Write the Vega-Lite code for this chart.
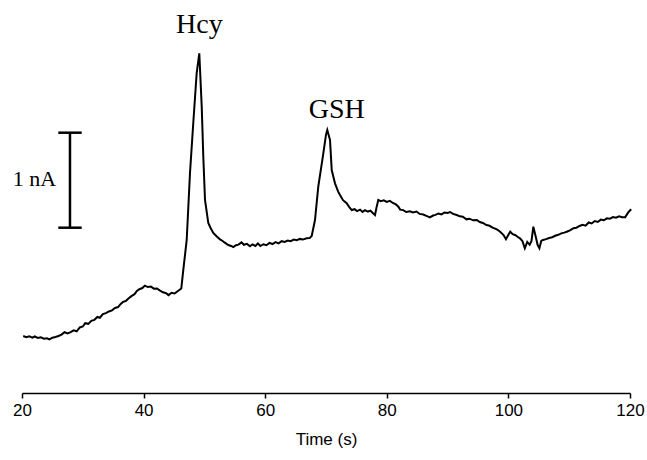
{
  "$schema": "https://vega.github.io/schema/vega-lite/v6.json",
  "width": 608,
  "height": 380,
  "autosize": {"type": "none"},
  "padding": {"left": 22, "top": 13, "right": 17, "bottom": 67},
  "background": "white",
  "config": {"view": {"stroke": null}},
  "datasets": {
    "trace": [
      {"t": 20.2, "i": 0.600}, {"t": 20.7, "i": 0.588}, {"t": 21.2, "i": 0.596}, {"t": 21.7, "i": 0.583},
      {"t": 22.1, "i": 0.595}, {"t": 22.6, "i": 0.580}, {"t": 23.1, "i": 0.586}, {"t": 23.6, "i": 0.572},
      {"t": 24.1, "i": 0.575}, {"t": 24.5, "i": 0.565}, {"t": 25.0, "i": 0.582}, {"t": 25.5, "i": 0.590},
      {"t": 26.0, "i": 0.600}, {"t": 26.5, "i": 0.615}, {"t": 27.0, "i": 0.640}, {"t": 27.5, "i": 0.628},
      {"t": 28.0, "i": 0.640}, {"t": 28.5, "i": 0.660}, {"t": 29.0, "i": 0.650}, {"t": 29.5, "i": 0.690},
      {"t": 30.0, "i": 0.700}, {"t": 30.4, "i": 0.735}, {"t": 30.9, "i": 0.728}, {"t": 31.4, "i": 0.760},
      {"t": 31.9, "i": 0.770}, {"t": 32.4, "i": 0.800}, {"t": 32.8, "i": 0.792}, {"t": 33.3, "i": 0.830},
      {"t": 33.8, "i": 0.840}, {"t": 34.3, "i": 0.858}, {"t": 34.8, "i": 0.870}, {"t": 35.3, "i": 0.895},
      {"t": 35.8, "i": 0.905}, {"t": 36.2, "i": 0.935}, {"t": 36.6, "i": 0.958}, {"t": 37.1, "i": 0.970},
      {"t": 37.6, "i": 1.000}, {"t": 38.0, "i": 1.020}, {"t": 38.5, "i": 1.040}, {"t": 38.9, "i": 1.075},
      {"t": 39.3, "i": 1.092}, {"t": 39.8, "i": 1.105}, {"t": 40.2, "i": 1.130}, {"t": 40.7, "i": 1.115},
      {"t": 41.2, "i": 1.120}, {"t": 41.7, "i": 1.098}, {"t": 42.2, "i": 1.100}, {"t": 42.7, "i": 1.077},
      {"t": 43.2, "i": 1.060}, {"t": 43.7, "i": 1.050}, {"t": 44.1, "i": 1.030}, {"t": 44.6, "i": 1.055},
      {"t": 45.1, "i": 1.048}, {"t": 45.7, "i": 1.077}, {"t": 46.2, "i": 1.100}, {"t": 46.53, "i": 1.295},
      {"t": 47.09, "i": 1.611}, {"t": 47.63, "i": 2.316}, {"t": 48.17, "i": 2.842}, {"t": 48.73, "i": 3.368},
      {"t": 49.16, "i": 3.576}, {"t": 49.56, "i": 3.014}, {"t": 49.82, "i": 2.487}, {"t": 50.10, "i": 2.032},
      {"t": 50.64, "i": 1.789}, {"t": 51.0, "i": 1.740}, {"t": 51.46, "i": 1.684}, {"t": 52.0, "i": 1.650},
      {"t": 52.57, "i": 1.616}, {"t": 53.0, "i": 1.600}, {"t": 53.3, "i": 1.585}, {"t": 53.93, "i": 1.558},
      {"t": 54.4, "i": 1.548}, {"t": 54.75, "i": 1.535}, {"t": 55.2, "i": 1.556}, {"t": 55.6, "i": 1.562},
      {"t": 56.1, "i": 1.585}, {"t": 56.5, "i": 1.560}, {"t": 57.0, "i": 1.570}, {"t": 57.5, "i": 1.545},
      {"t": 57.9, "i": 1.565}, {"t": 58.4, "i": 1.548}, {"t": 58.8, "i": 1.575}, {"t": 59.2, "i": 1.547},
      {"t": 59.7, "i": 1.566}, {"t": 60.2, "i": 1.556}, {"t": 60.7, "i": 1.580}, {"t": 61.2, "i": 1.568},
      {"t": 61.7, "i": 1.588}, {"t": 62.2, "i": 1.575}, {"t": 62.7, "i": 1.598}, {"t": 63.2, "i": 1.590},
      {"t": 63.7, "i": 1.605}, {"t": 64.2, "i": 1.598}, {"t": 64.7, "i": 1.615}, {"t": 65.2, "i": 1.608},
      {"t": 65.7, "i": 1.622}, {"t": 66.2, "i": 1.615}, {"t": 66.8, "i": 1.628}, {"t": 67.3, "i": 1.630},
      {"t": 67.65, "i": 1.653}, {"t": 68.19, "i": 1.821}, {"t": 68.73, "i": 2.172}, {"t": 69.56, "i": 2.523},
      {"t": 70.0, "i": 2.720}, {"t": 70.21, "i": 2.768}, {"t": 70.66, "i": 2.663}, {"t": 70.94, "i": 2.347},
      {"t": 71.48, "i": 2.207}, {"t": 72.0, "i": 2.120}, {"t": 72.3, "i": 2.084}, {"t": 72.8, "i": 2.030},
      {"t": 73.4, "i": 1.997}, {"t": 73.8, "i": 1.960}, {"t": 74.23, "i": 1.926}, {"t": 74.7, "i": 1.935},
      {"t": 75.1, "i": 1.915}, {"t": 75.6, "i": 1.930}, {"t": 76.0, "i": 1.905}, {"t": 76.4, "i": 1.925},
      {"t": 76.9, "i": 1.910}, {"t": 77.3, "i": 1.920}, {"t": 77.7, "i": 1.895}, {"t": 78.06, "i": 1.874},
      {"t": 78.3, "i": 1.950}, {"t": 78.6, "i": 2.032}, {"t": 79.0, "i": 2.020}, {"t": 79.5, "i": 2.028},
      {"t": 80.0, "i": 2.012}, {"t": 80.5, "i": 2.022}, {"t": 81.0, "i": 2.000}, {"t": 81.5, "i": 1.985},
      {"t": 81.9, "i": 1.961}, {"t": 82.2, "i": 1.930}, {"t": 82.7, "i": 1.925}, {"t": 83.2, "i": 1.905},
      {"t": 83.8, "i": 1.912}, {"t": 84.3, "i": 1.900}, {"t": 84.9, "i": 1.910}, {"t": 85.4, "i": 1.885},
      {"t": 86.0, "i": 1.878}, {"t": 86.5, "i": 1.865}, {"t": 87.1, "i": 1.849}, {"t": 87.6, "i": 1.868},
      {"t": 88.0, "i": 1.875}, {"t": 88.5, "i": 1.890}, {"t": 89.0, "i": 1.880}, {"t": 89.5, "i": 1.900},
      {"t": 90.0, "i": 1.895}, {"t": 90.4, "i": 1.905}, {"t": 90.9, "i": 1.885}, {"t": 91.5, "i": 1.874},
      {"t": 92.0, "i": 1.860}, {"t": 92.5, "i": 1.855}, {"t": 93.1, "i": 1.828}, {"t": 93.6, "i": 1.835},
      {"t": 94.2, "i": 1.818}, {"t": 94.8, "i": 1.821}, {"t": 95.3, "i": 1.800}, {"t": 95.8, "i": 1.790},
      {"t": 96.4, "i": 1.768}, {"t": 96.9, "i": 1.760}, {"t": 97.4, "i": 1.740}, {"t": 98.1, "i": 1.723},
      {"t": 98.6, "i": 1.700}, {"t": 99.2, "i": 1.663}, {"t": 99.6, "i": 1.618}, {"t": 100.0, "i": 1.665},
      {"t": 100.3, "i": 1.698}, {"t": 100.7, "i": 1.672}, {"t": 101.1, "i": 1.663}, {"t": 101.5, "i": 1.645},
      {"t": 101.9, "i": 1.628}, {"t": 102.3, "i": 1.600}, {"t": 102.7, "i": 1.523}, {"t": 103.1, "i": 1.590},
      {"t": 103.5, "i": 1.560}, {"t": 103.8, "i": 1.600}, {"t": 104.1, "i": 1.751}, {"t": 104.5, "i": 1.645},
      {"t": 104.8, "i": 1.560}, {"t": 105.1, "i": 1.523}, {"t": 105.4, "i": 1.600}, {"t": 105.7, "i": 1.611},
      {"t": 106.2, "i": 1.620}, {"t": 106.7, "i": 1.632}, {"t": 107.2, "i": 1.640}, {"t": 107.7, "i": 1.655},
      {"t": 108.2, "i": 1.665}, {"t": 108.7, "i": 1.680}, {"t": 109.2, "i": 1.688}, {"t": 109.7, "i": 1.700},
      {"t": 110.2, "i": 1.715}, {"t": 110.7, "i": 1.735}, {"t": 111.2, "i": 1.740}, {"t": 111.7, "i": 1.758},
      {"t": 112.2, "i": 1.770}, {"t": 112.7, "i": 1.762}, {"t": 113.2, "i": 1.795}, {"t": 113.7, "i": 1.785},
      {"t": 114.2, "i": 1.810}, {"t": 114.7, "i": 1.800}, {"t": 115.2, "i": 1.825}, {"t": 115.7, "i": 1.818},
      {"t": 116.2, "i": 1.839}, {"t": 116.7, "i": 1.835}, {"t": 117.2, "i": 1.852}, {"t": 117.7, "i": 1.845},
      {"t": 118.2, "i": 1.860}, {"t": 118.7, "i": 1.850}, {"t": 119.2, "i": 1.849}, {"t": 119.5, "i": 1.880},
      {"t": 119.8, "i": 1.908}, {"t": 120.2, "i": 1.934}
    ],
    "labels": [
      {"t": 49.18, "i": 3.79, "text": "Hcy"},
      {"t": 71.76, "i": 2.90, "text": "GSH"}
    ],
    "scaletext": [{"t": 22.06, "i": 2.18, "text": "1 nA"}],
    "bar": [{"t": 27.89, "lo": 1.74, "hi": 2.74}],
    "caps": [{"a": 25.97, "b": 29.82, "i": 1.74}, {"a": 25.97, "b": 29.82, "i": 2.74}]
  },
  "layer": [
    {
      "data": {"name": "trace"},
      "mark": {"type": "line", "color": "black", "strokeWidth": 2, "clip": false},
      "encoding": {
        "x": {
          "field": "t", "type": "quantitative",
          "scale": {"domain": [20, 120], "nice": false, "zero": false},
          "axis": {
            "title": "Time (s)", "values": [20, 40, 60, 80, 100, 120],
            "grid": false, "domainColor": "black", "domainWidth": 1.5,
            "tickColor": "black", "tickWidth": 1.5, "tickSize": 5,
            "labelFont": "Liberation Sans", "labelFontSize": 17, "labelColor": "black",
            "labelPadding": 4, "labelFlush": false,
            "titleFont": "Liberation Sans", "titleFontSize": 17, "titleFontWeight": "normal",
            "titleColor": "black", "titlePadding": 13
          }
        },
        "y": {
          "field": "i", "type": "quantitative",
          "scale": {"domain": [0, 4], "nice": false, "zero": false},
          "axis": null
        }
      }
    },
    {
      "data": {"name": "labels"},
      "mark": {"type": "text", "font": "Liberation Serif", "fontSize": 28, "color": "black", "align": "center", "baseline": "alphabetic"},
      "encoding": {
        "x": {"field": "t", "type": "quantitative"},
        "y": {"field": "i", "type": "quantitative"},
        "text": {"field": "text"}
      }
    },
    {
      "data": {"name": "scaletext"},
      "mark": {"type": "text", "font": "Liberation Serif", "fontSize": 22, "color": "black", "align": "center", "baseline": "alphabetic"},
      "encoding": {
        "x": {"field": "t", "type": "quantitative"},
        "y": {"field": "i", "type": "quantitative"},
        "text": {"field": "text"}
      }
    },
    {
      "data": {"name": "bar"},
      "mark": {"type": "rule", "color": "black", "strokeWidth": 2.5},
      "encoding": {
        "x": {"field": "t", "type": "quantitative"},
        "y": {"field": "lo", "type": "quantitative"},
        "y2": {"field": "hi"}
      }
    },
    {
      "data": {"name": "caps"},
      "mark": {"type": "rule", "color": "black", "strokeWidth": 2.5},
      "encoding": {
        "x": {"field": "a", "type": "quantitative"},
        "x2": {"field": "b"},
        "y": {"field": "i", "type": "quantitative"}
      }
    }
  ]
}
